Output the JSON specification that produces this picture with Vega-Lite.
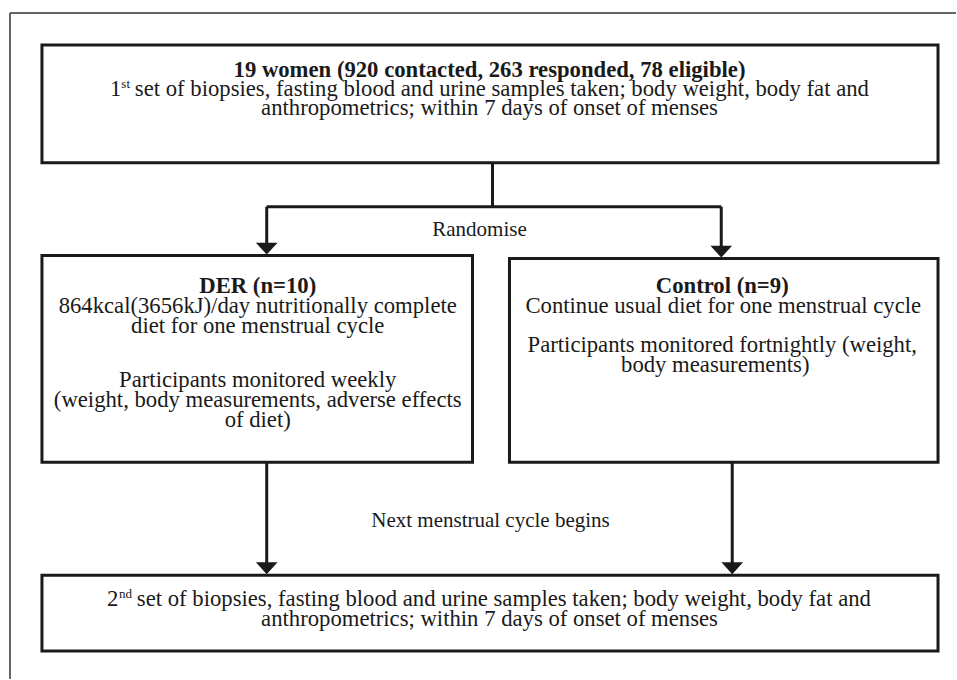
{
  "$schema": "https://vega.github.io/schema/vega-lite/v6.json",
  "width": 957,
  "height": 680,
  "padding": 0,
  "autosize": {"type": "fit", "contains": "padding"},
  "background": "white",
  "config": {"view": {"stroke": null}},
  "datasets": {
    "frame": [
      {"x": 10, "y": 13, "x2": 957, "y2": 13},
      {"x": 10, "y": 13, "x2": 10, "y2": 680}
    ],
    "boxes": [
      {"id": "top", "x": 42, "x2": 939, "y": 45, "y2": 163},
      {"id": "der", "x": 42, "x2": 473, "y": 256, "y2": 463},
      {"id": "control", "x": 510, "x2": 939, "y": 259, "y2": 463},
      {"id": "bottom", "x": 42, "x2": 939, "y": 576, "y2": 652}
    ],
    "lines": [
      {"x": 493, "y": 163, "x2": 493, "y2": 207},
      {"x": 267, "y": 207, "x2": 722, "y2": 207},
      {"x": 267, "y": 207, "x2": 267, "y2": 246},
      {"x": 722, "y": 207, "x2": 722, "y2": 249},
      {"x": 267, "y": 463, "x2": 267, "y2": 566},
      {"x": 733, "y": 463, "x2": 733, "y2": 566}
    ],
    "arrows": [
      {"x": 267, "y": 249},
      {"x": 722, "y": 252},
      {"x": 267, "y": 569},
      {"x": 733, "y": 569}
    ],
    "texts": [
      {"kind": "title", "x": 490, "y": 77, "text": "19 women (920 contacted, 263 responded, 78 eligible)"},
      {"kind": "left", "x": 110, "y": 96, "text": "1"},
      {"kind": "sup", "x": 121.5, "y": 88, "text": "st"},
      {"kind": "left", "x": 135, "y": 96, "text": "set of biopsies, fasting blood and urine samples taken; body weight, body fat and"},
      {"kind": "body", "x": 490, "y": 115, "text": "anthropometrics; within 7 days of onset of menses"},
      {"kind": "label", "x": 480, "y": 236, "text": "Randomise"},
      {"kind": "title", "x": 258, "y": 293, "text": "DER (n=10)"},
      {"kind": "body", "x": 258, "y": 313, "text": "864kcal(3656kJ)/day nutritionally complete"},
      {"kind": "body", "x": 258, "y": 333, "text": "diet for one menstrual cycle"},
      {"kind": "body", "x": 258, "y": 388, "text": "Participants monitored weekly"},
      {"kind": "body", "x": 258, "y": 408, "text": "(weight, body measurements, adverse effects"},
      {"kind": "body", "x": 258, "y": 428, "text": "of diet)"},
      {"kind": "title", "x": 723, "y": 293, "text": "Control (n=9)"},
      {"kind": "body", "x": 724, "y": 313, "text": "Continue usual diet for one menstrual cycle"},
      {"kind": "body", "x": 723, "y": 353, "text": "Participants monitored fortnightly (weight,"},
      {"kind": "body", "x": 716, "y": 373, "text": "body measurements)"},
      {"kind": "label", "x": 491, "y": 528, "text": "Next menstrual cycle begins"},
      {"kind": "left", "x": 107, "y": 607, "text": "2"},
      {"kind": "sup", "x": 119, "y": 599, "text": "nd"},
      {"kind": "left", "x": 137, "y": 607, "text": "set of biopsies, fasting blood and urine samples taken; body weight, body fat and"},
      {"kind": "body", "x": 490, "y": 627, "text": "anthropometrics; within 7 days of onset of menses"}
    ]
  },
  "encoding": {
    "x": {"field": "x", "type": "quantitative", "scale": {"domain": [0, 957], "nice": false, "zero": false}, "axis": null},
    "y": {"field": "y", "type": "quantitative", "scale": {"domain": [0, 680], "nice": false, "zero": false, "reverse": true}, "axis": null}
  },
  "layer": [
    {
      "data": {"name": "frame"},
      "mark": {"type": "rule", "color": "#333333", "strokeWidth": 1.5},
      "encoding": {"x2": {"field": "x2"}, "y2": {"field": "y2"}}
    },
    {
      "data": {"name": "boxes"},
      "mark": {"type": "rect", "fill": "white", "stroke": "#1a1a1a", "strokeWidth": 3},
      "encoding": {"x2": {"field": "x2"}, "y2": {"field": "y2"}}
    },
    {
      "data": {"name": "lines"},
      "mark": {"type": "rule", "color": "#1a1a1a", "strokeWidth": 3},
      "encoding": {"x2": {"field": "x2"}, "y2": {"field": "y2"}}
    },
    {
      "data": {"name": "arrows"},
      "mark": {"type": "point", "shape": "M-1,-0.55L1,-0.55L0,0.55Z", "size": 470, "filled": true, "color": "#1a1a1a", "opacity": 1, "strokeWidth": 0}
    },
    {
      "data": {"name": "texts"},
      "transform": [{"filter": "datum.kind === 'title'"}],
      "mark": {"type": "text", "font": "Liberation Serif", "fontSize": 22.7, "fontWeight": "bold", "align": "center", "baseline": "alphabetic", "color": "#1a1a1a"},
      "encoding": {"text": {"field": "text"}}
    },
    {
      "data": {"name": "texts"},
      "transform": [{"filter": "datum.kind === 'body'"}],
      "mark": {"type": "text", "font": "Liberation Serif", "fontSize": 22.7, "align": "center", "baseline": "alphabetic", "color": "#1a1a1a"},
      "encoding": {"text": {"field": "text"}}
    },
    {
      "data": {"name": "texts"},
      "transform": [{"filter": "datum.kind === 'label'"}],
      "mark": {"type": "text", "font": "Liberation Serif", "fontSize": 21, "align": "center", "baseline": "alphabetic", "color": "#1a1a1a"},
      "encoding": {"text": {"field": "text"}}
    },
    {
      "data": {"name": "texts"},
      "transform": [{"filter": "datum.kind === 'left'"}],
      "mark": {"type": "text", "font": "Liberation Serif", "fontSize": 22.7, "align": "left", "baseline": "alphabetic", "color": "#1a1a1a"},
      "encoding": {"text": {"field": "text"}}
    },
    {
      "data": {"name": "texts"},
      "transform": [{"filter": "datum.kind === 'sup'"}],
      "mark": {"type": "text", "font": "Liberation Serif", "fontSize": 13, "align": "left", "baseline": "alphabetic", "color": "#1a1a1a"},
      "encoding": {"text": {"field": "text"}}
    }
  ]
}
